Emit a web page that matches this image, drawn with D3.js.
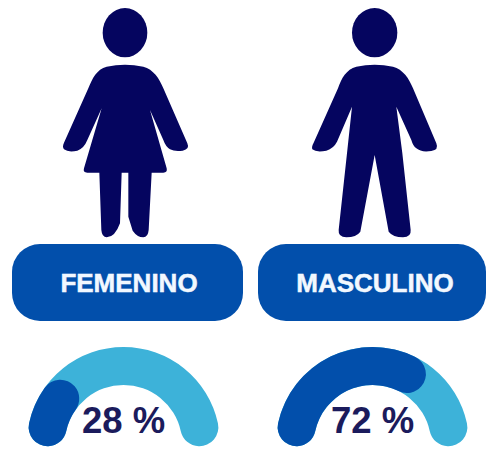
<!DOCTYPE html>
<html><head><meta charset="utf-8">
<script src="https://cdn.jsdelivr.net/npm/d3@7/dist/d3.min.js"></script>
<style>html,body{margin:0;padding:0;background:#fff}svg{display:block}</style>
</head><body><svg id="c" width="486" height="451"></svg>
<script>
const categories = ["FEMENINO", "MASCULINO"];
const percentages = [28, 72];
const percentLabels = ["28 %", "72 %"];
const womanBody = "M320,200 Q375,188 430,200 C460,208 478,235 490,265 L562,430 Q570,448 548,452 Q525,456 510,448 Q497,440 490,420 L450,330 L500,505 Q503,518 490,518 L455,518 L446,690 Q444,712 430,712 Q412,712 398,692 L385,650 L385,518 L365,518 L360,670 Q345,712 320,712 Q306,712 304,690 L298,518 L262,518 Q248,518 252,505 L305,325 L262,420 Q252,445 232,452 Q205,458 192,448 Q186,440 192,428 L265,265 C277,235 290,208 320,200Z";
const manBody = "M340,200 Q395,188 450,200 C480,208 498,235 510,265 L580,430 Q588,450 565,453 Q535,458 520,445 Q510,438 505,420 L460,320 L478,460 L503,690 Q505,712 480,712 Q450,712 437,695 L395,465 L352,695 Q340,712 310,712 Q285,712 287,690 L312,460 L327,320 L282,425 Q272,445 250,452 Q220,458 208,448 Q205,440 212,428 L285,265 C295,235 310,208 340,200Z";
const figures = [
  {body: womanBody, head: [375, 98, 67, 74], dx: 0},
  {body: manBody, head: [395, 98, 68, 74], dx: 243}
];
const svg = d3.select("#c");
const NAVY = "#05055f", BLUE = "#024fab", LIGHT = "#3db2d9", TEXT = "#1b1b5c";
const FONT = "'Liberation Sans', Arial, sans-serif";

const buttonX = [12, 258], buttonW = [231, 228];
const gaugeCx = [123.5, 372.5], gaugeCy = 443.6;
const textCx = [129, 375], pctCx = [123.5, 372.5];

const angle = d3.scaleLinear().domain([0, 100]).range([-92 * Math.PI / 180, 92 * Math.PI / 180]);
const arc = d3.arc().innerRadius(58.6).outerRadius(96.6).cornerRadius(19);

figures.forEach(f => {
  const g = svg.append("g").attr("transform", `translate(${f.dx},0) scale(${1/3})`);
  g.append("ellipse").attr("cx", f.head[0]).attr("cy", f.head[1]).attr("rx", f.head[2]).attr("ry", f.head[3]).attr("fill", NAVY);
  g.append("path").attr("d", f.body).attr("fill", NAVY);
});

categories.forEach((c, i) => {
  svg.append("rect").attr("x", buttonX[i]).attr("y", 244).attr("width", buttonW[i]).attr("height", 77)
    .attr("rx", 28).attr("fill", BLUE);
  svg.append("text").attr("x", textCx[i]).attr("y", 291.5).attr("text-anchor", "middle")
    .attr("font-family", FONT).attr("font-weight", 700).attr("font-size", 26).attr("fill", "#f2f8ff")
    .attr("stroke", "#f2f8ff").attr("stroke-width", 0.5).text(c);

  const g = svg.append("g").attr("transform", `translate(${gaugeCx[i]},${gaugeCy})`);
  g.append("path").attr("fill", LIGHT).attr("d", arc({startAngle: angle(0), endAngle: angle(100)}));
  g.append("path").attr("fill", BLUE).attr("d", arc({startAngle: angle(0), endAngle: angle(percentages[i])}));
  svg.append("text").attr("x", pctCx[i]).attr("y", 433).attr("text-anchor", "middle")
    .attr("font-family", FONT).attr("font-weight", 700).attr("font-size", 36.5).attr("fill", TEXT).text(percentLabels[i]);
});
</script></body></html>
